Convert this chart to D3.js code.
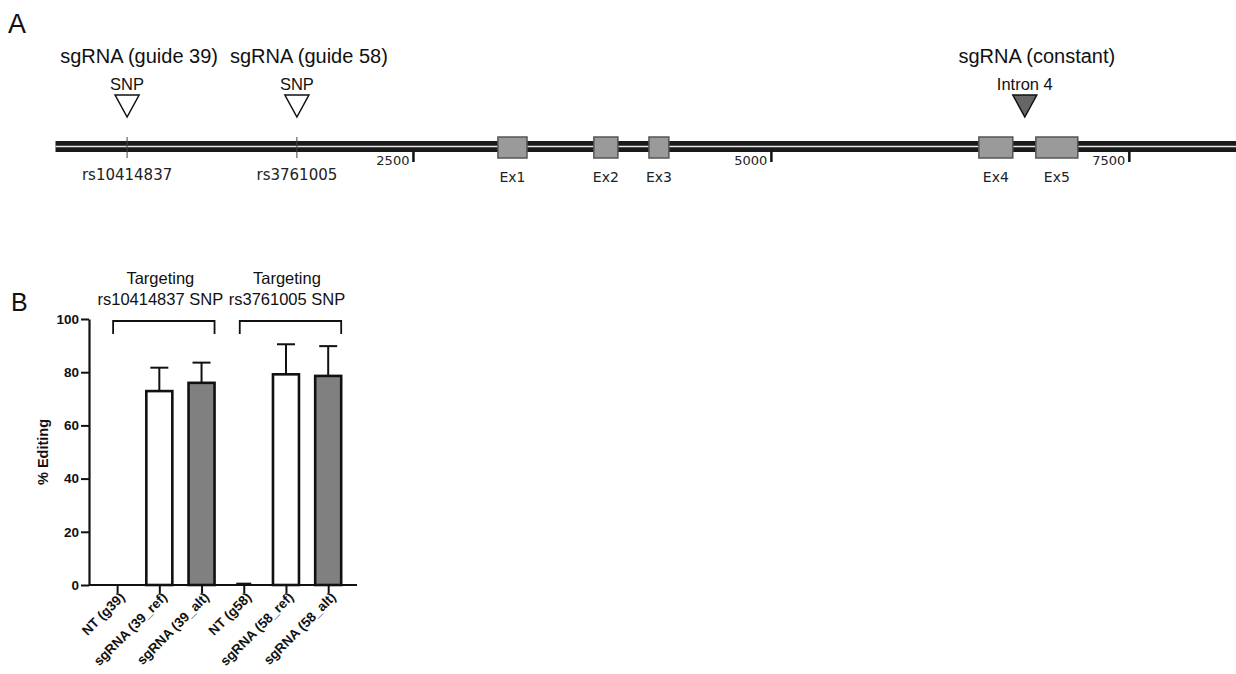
<!DOCTYPE html>
<html><head><meta charset="utf-8">
<script src="https://cdn.jsdelivr.net/npm/d3@7"></script>
<style>body{margin:0;background:#fff}svg{display:block}</style>
</head><body>
<svg id="c" width="1236" height="674"></svg>
<script>
// ---- Panel A data ----
const geneLength = 8245;
const snpNames = ["rs10414837", "rs3761005"];
const snpPos = [500, 1686];
const exonNames = ["Ex1", "Ex2", "Ex3", "Ex4", "Ex5"];
const exonStart = [3090, 3760, 4145, 6449, 6847];
const exonEnd = [3293, 3928, 4284, 6686, 7140];
const guideLabels = ["sgRNA (guide 39)", "sgRNA (guide 58)", "sgRNA (constant)"];
const guideMarkers = ["SNP", "SNP", "Intron 4"];
const guidePos = [500, 1686, 6770];
const guideFilled = [false, false, true];
const scaleTicks = [2500, 5000, 7500];

// ---- Panel B data ----
const categories = ["NT (g39)", "sgRNA (39_ref)", "sgRNA (39_alt)", "NT (g58)", "sgRNA (58_ref)", "sgRNA (58_alt)"];
const means = [0, 72.9, 76.0, 0.2, 79.2, 78.6];
const errors = [0, 8.8, 7.6, 0.3, 11.3, 11.2];
const barKind = ["ref", "ref", "alt", "ref", "ref", "alt"];
const groupLabels = [["Targeting", "rs10414837 SNP"], ["Targeting", "rs3761005 SNP"]];
const groupMembers = [["NT (g39)", "sgRNA (39_alt)"], ["NT (g58)", "sgRNA (58_alt)"]];
const yTicks = [0, 20, 40, 60, 80, 100];

const svg = d3.select("#c");
const sans = "'Liberation Sans', Arial, sans-serif";
const verd = "'DejaVu Sans', Verdana, sans-serif";

// ================= Panel A =================
svg.append("text").attr("x", 8).attr("y", 33).attr("font-family", sans).attr("font-size", 27).attr("fill", "#111").text("A");
const gx = d3.scaleLinear().domain([0, geneLength]).range([55.5, 1236]);
const lineY = 146.5;
const A = svg.append("g");
// double line
A.append("rect").attr("x", gx(0)).attr("y", lineY - 5.5).attr("width", gx(geneLength) - gx(0)).attr("height", 11).attr("fill", "#1a1a1a");
A.append("line").attr("x1", gx(0)).attr("x2", gx(geneLength)).attr("y1", lineY).attr("y2", lineY).attr("stroke", "#e8e8e8").attr("stroke-width", 1.6);

// SNP ticks & labels
snpPos.forEach((p, i) => {
  A.append("line").attr("x1", gx(p)).attr("x2", gx(p)).attr("y1", 137).attr("y2", 158).attr("stroke", "#444").attr("stroke-width", 1);
  A.append("text").attr("x", gx(p)).attr("y", 180).attr("text-anchor", "middle").attr("font-family", verd).attr("font-size", 15).attr("fill", "#222").text(snpNames[i]);
});

// scale ticks
scaleTicks.forEach(t => {
  A.append("line").attr("x1", gx(t)).attr("x2", gx(t)).attr("y1", 151).attr("y2", 162).attr("stroke", "#111").attr("stroke-width", 2.5);
  A.append("text").attr("x", gx(t) - 4).attr("y", 165).attr("text-anchor", "end").attr("font-family", verd).attr("font-size", 13).attr("fill", "#222").text(t);
});

// exons
exonNames.forEach((n, i) => {
  const x0 = gx(exonStart[i]), x1 = gx(exonEnd[i]);
  A.append("rect").attr("x", x0).attr("y", 137).attr("width", x1 - x0).attr("height", 21).attr("fill", "#9a9a9a").attr("stroke", "#555").attr("stroke-width", 1.5);
  A.append("text").attr("x", (x0 + x1) / 2).attr("y", 182).attr("text-anchor", "middle").attr("font-family", verd).attr("font-size", 14).attr("fill", "#222").text(n);
});

// guides
guidePos.forEach((p, i) => {
  const cx = gx(p);
  A.append("path").attr("d", `M${cx - 12},${95} L${cx + 12},${95} L${cx},${117} Z`)
    .attr("fill", guideFilled[i] ? "#666" : "#fff").attr("stroke", "#111").attr("stroke-width", 1.5);
  A.append("text").attr("x", cx).attr("y", 90).attr("text-anchor", "middle").attr("font-family", sans).attr("font-size", 16.5).attr("fill", "#111").text(guideMarkers[i]);
  A.append("text").attr("x", cx + 12).attr("y", 63).attr("text-anchor", "middle").attr("font-family", sans).attr("font-size", 20).attr("fill", "#111").text(guideLabels[i]);
});

// ================= Panel B =================
svg.append("text").attr("x", 11).attr("y", 311).attr("font-family", sans).attr("font-size", 25).attr("fill", "#111").text("B");
const y = d3.scaleLinear().domain([0, 100]).range([585, 319]);
const x = d3.scalePoint().domain(categories).range([96, 349.3]).padding(0.5);
const barW = 26;
const B = svg.append("g");

// y axis
const yAxis = B.append("g").attr("transform", "translate(89,0)")
  .call(d3.axisLeft(y).tickValues(yTicks).tickSize(8).tickSizeOuter(0).tickPadding(2));
yAxis.select(".domain").attr("stroke-width", 2.2).attr("stroke", "#111");
yAxis.selectAll(".tick line").attr("stroke-width", 2).attr("stroke", "#111");
yAxis.selectAll("text").attr("font-family", sans).attr("font-weight", "bold").attr("font-size", 13.5).attr("fill", "#111");

// x axis
const xAxis = B.append("g").attr("transform", "translate(0,585)")
  .call(d3.axisBottom(x).tickSize(8).tickSizeOuter(0));
xAxis.select(".domain").attr("d", `M89,0H357`).attr("stroke-width", 2.2).attr("stroke", "#111");
xAxis.selectAll(".tick line").attr("stroke-width", 2).attr("stroke", "#111");
xAxis.selectAll("text").attr("font-family", sans).attr("font-weight", "bold").attr("font-size", 13.5).attr("fill", "#111")
  .attr("text-anchor", "end").attr("x", 0).attr("y", 0).attr("dy", null).attr("transform", "translate(8,13) rotate(-45)");

// bars
categories.forEach((c, i) => {
  const cx = x(c);
  if (means[i] <= 0) return;
  const top = y(means[i]);
  if (means[i] >= 1) {
    B.append("rect").attr("x", cx - barW / 2).attr("y", top).attr("width", barW).attr("height", y(0) - top)
      .attr("fill", barKind[i] === "alt" ? "#808080" : "#fff").attr("stroke", "#111").attr("stroke-width", 2.6);
  }
  const capW = means[i] >= 1 ? 18 : 15;
  const ey = y(means[i] + errors[i]);
  B.append("line").attr("x1", cx).attr("x2", cx).attr("y1", top).attr("y2", ey).attr("stroke", "#111").attr("stroke-width", 2);
  B.append("line").attr("x1", cx - capW / 2).attr("x2", cx + capW / 2).attr("y1", ey).attr("y2", ey).attr("stroke", "#111").attr("stroke-width", 2);
});

// group brackets
groupMembers.forEach((g, i) => {
  const x0 = x(g[0]) - 4, x1 = x(g[1]) + 13;
  B.append("path").attr("d", `M${x0},334 V321 H${x1} V334`).attr("fill", "none").attr("stroke", "#111").attr("stroke-width", 1.8);
  const cxm = (x(g[0]) + x(g[1])) / 2 + 1;
  groupLabels[i].forEach((t, j) => {
    B.append("text").attr("x", cxm).attr("y", 284 + j * 21).attr("text-anchor", "middle").attr("font-family", sans).attr("font-size", 16.5).attr("fill", "#111").text(t);
  });
});

// y label
B.append("text").attr("transform", `translate(48,452) rotate(-90)`).attr("text-anchor", "middle")
  .attr("font-family", sans).attr("font-weight", "bold").attr("font-size", 14.5).attr("fill", "#111").text("% Editing");
</script>
</body></html>
